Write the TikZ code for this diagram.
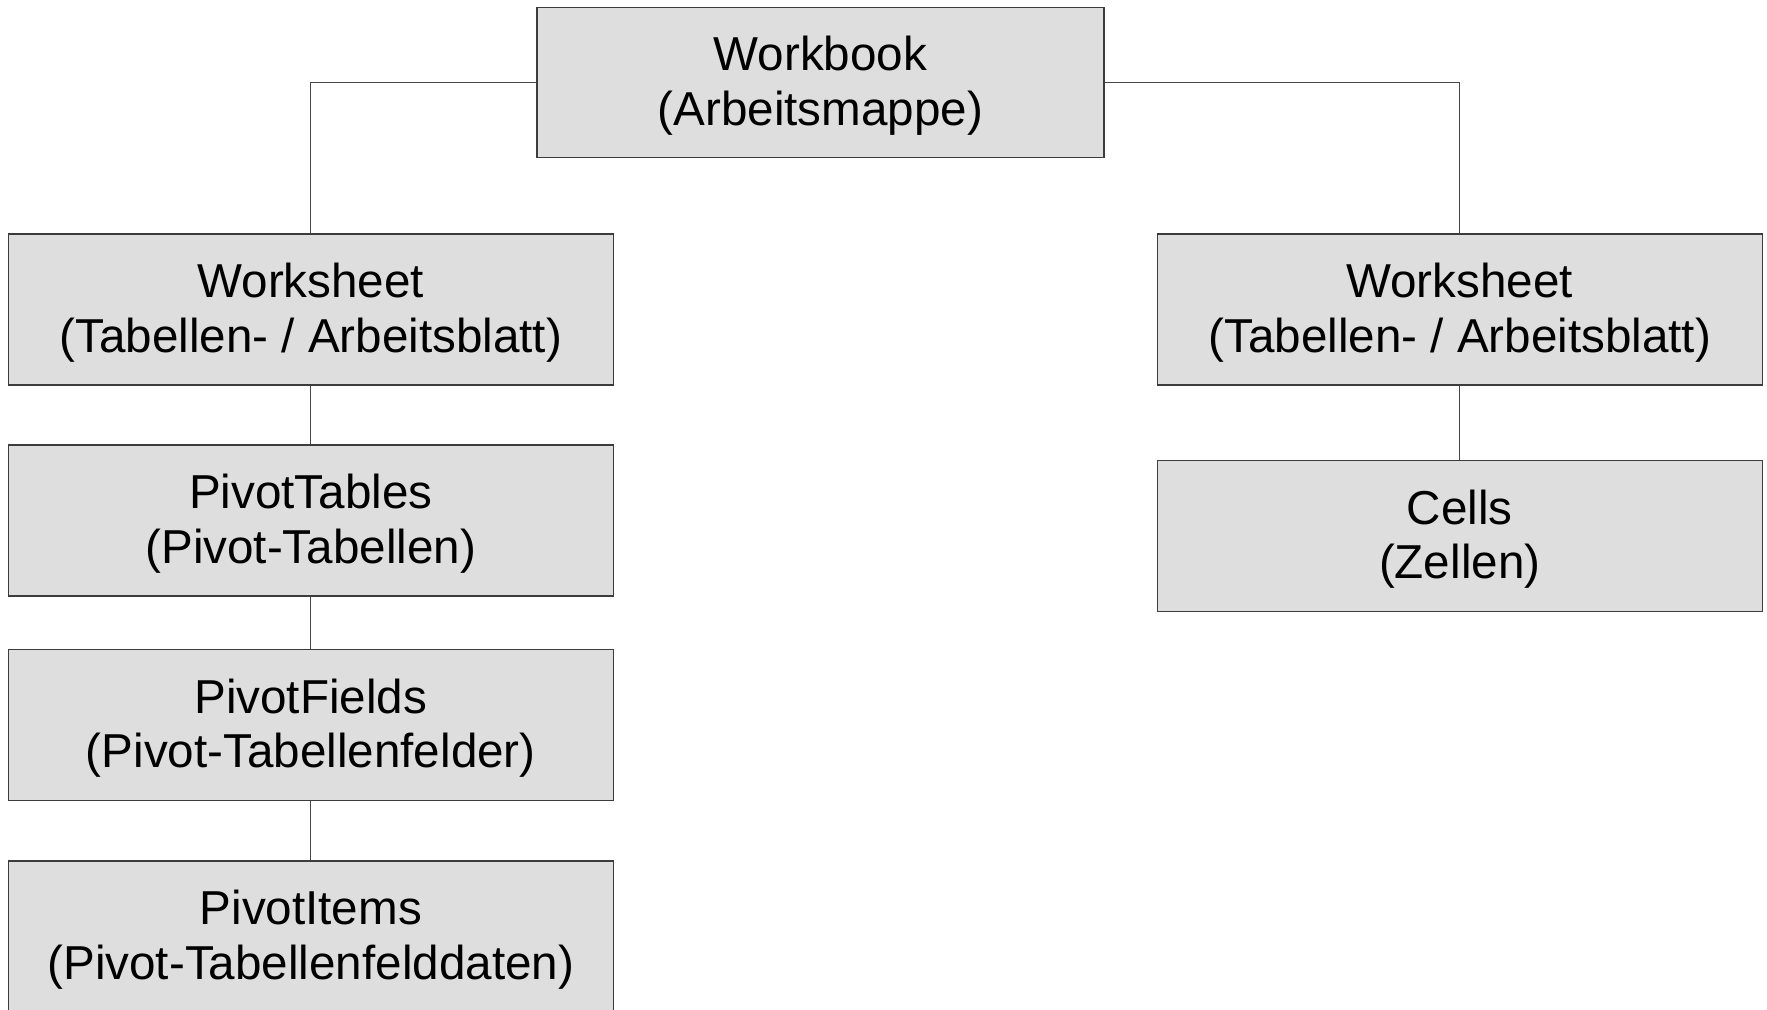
\documentclass[tikz,border=0pt]{standalone}
\usepackage{fontspec}
\setmainfont{Liberation Sans}
\definecolor{boxfill}{RGB}{221,222,221}
\definecolor{boxline}{RGB}{60,60,60}
\definecolor{linkcol}{RGB}{70,70,70}
% two-line box caption; the strut on top lowers the text block a little
\newcommand\twolines[2]{\rule{0pt}{20.6pt}#1\\#2}
\begin{document}
\begin{tikzpicture}[x=0.5pt,y=-0.5pt,
  objbox/.style={draw=boxline, fill=boxfill, line width=0.7pt,
    minimum width=302.5pt, minimum height=75.5pt, inner sep=0pt,
    align=center, font=\fontsize{23.8}{27.4}\selectfont},
  link/.style={draw=linkcol, line width=0.6pt}]
\useasboundingbox (0,0) rectangle (1767,1009);
\clip (0,0) rectangle (1767,1009);

% object hierarchy
\node[objbox, minimum width=283.5pt, minimum height=75pt] (wb) at (820.5,82.6)
  {\twolines{Workbook}{(Arbeitsmappe)}};
\node[objbox] (ws1) at (310.8,309.4) {\twolines{Worksheet}{(Tabellen- / Arbeitsblatt)}};
\node[objbox] (ws2) at (1459.7,309.4) {\twolines{Worksheet}{(Tabellen- / Arbeitsblatt)}};
\node[objbox] (pt) at (310.8,520.5) {\twolines{PivotTables}{(Pivot-Tabellen)}};
\node[objbox] (pf) at (310.8,724.8) {\twolines{PivotFields}{(Pivot-Tabellenfelder)}};
\node[objbox] (pi) at (310.8,936.5) {\twolines{PivotItems}{(Pivot-Tabellenfelddaten)}};
\node[objbox] (cells) at (1459.7,535.8) {\twolines{Cells}{(Zellen)}};

% connectors
\draw[link] (wb.west) -| (ws1.north);
\draw[link] (wb.east) -| (ws2.north);
\draw[link] (ws1.south) -- (pt.north);
\draw[link] (pt.south) -- (pf.north);
\draw[link] (pf.south) -- (pi.north);
\draw[link] (ws2.south) -- (cells.north);
\end{tikzpicture}
\end{document}
